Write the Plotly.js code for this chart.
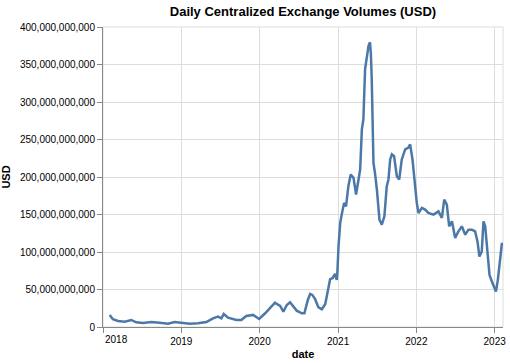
<!DOCTYPE html>
<html>
<head>
<meta charset="utf-8">
<script src="https://cdn.plot.ly/plotly-3.0.1.min.js"></script>
<style>html,body{margin:0;padding:0;background:#fff;}#chart{width:510px;height:364px;}</style>
</head>
<body>
<div id="chart"></div>
<script>
const dates = [
"2018-02-01","2018-02-16","2018-03-12","2018-04-12","2018-05-13","2018-06-05","2018-07-07","2018-08-14","2018-09-22","2018-10-31",
"2018-12-01","2019-01-01","2019-02-09","2019-03-20","2019-04-28","2019-05-29","2019-06-21","2019-07-07","2019-07-18","2019-08-07",
"2019-09-15","2019-10-08","2019-10-31","2019-12-02","2019-12-30","2020-01-27","2020-02-19","2020-03-13","2020-03-21","2020-04-06",
"2020-04-21","2020-05-07","2020-05-22","2020-06-07","2020-06-22","2020-07-16","2020-07-28","2020-08-13","2020-08-24","2020-09-03",
"2020-09-16","2020-10-01","2020-10-17","2020-11-02","2020-11-14","2020-11-25","2020-12-06","2020-12-18","2020-12-26","2020-12-29",
"2021-01-03","2021-01-11","2021-01-18","2021-01-29","2021-02-07","2021-02-18","2021-03-01","2021-03-14","2021-03-26","2021-04-06",
"2021-04-14","2021-04-22","2021-04-29","2021-05-07","2021-05-15","2021-05-23","2021-05-30","2021-06-03","2021-06-07","2021-06-15",
"2021-06-23","2021-07-01","2021-07-13","2021-07-24","2021-08-05","2021-08-16","2021-08-24","2021-09-01","2021-09-09","2021-09-19",
"2021-10-02","2021-10-13","2021-10-25","2021-11-10","2021-11-25","2021-12-03","2021-12-14","2021-12-23","2022-01-03","2022-01-11",
"2022-01-27","2022-02-11","2022-02-26","2022-03-22","2022-04-14","2022-04-30","2022-05-11","2022-05-23","2022-06-03","2022-06-16",
"2022-07-01","2022-07-16","2022-08-01","2022-08-17","2022-09-01","2022-09-17","2022-10-02","2022-10-13","2022-10-22","2022-11-02",
"2022-11-10","2022-11-18","2022-11-26","2022-12-08","2022-12-16","2022-12-27","2023-01-07","2023-01-16","2023-01-27","2023-02-04",
"2023-02-08"
];
const usdBillions = [
16.1,10.3,8.0,7.1,9.4,6.3,5.4,6.7,5.8,4.4,
6.7,5.8,4.4,4.9,6.7,11.6,13.8,11.6,17.4,12.4,
9.4,9.4,14.7,16.1,10.7,18.3,25.0,32.5,30.8,28.1,
20.5,29.4,33.0,26.4,21.8,18.3,18.3,36.1,44.1,42.8,
37.1,26.4,23.7,30.4,47.2,63.8,65.1,70.9,62.9,74.0,
107.4,138.7,149.8,165.5,160.9,187.7,203.3,198.9,176.6,194.4,
210.0,263.5,276.9,343.8,361.6,375.0,379.5,363.9,330.4,219.0,
203.3,183.3,143.1,136.5,147.6,187.7,196.7,223.4,230.1,227.8,
201.1,196.7,223.4,236.8,239.1,243.5,223.4,196.7,165.5,152.1,
158.8,156.5,152.1,149.8,154.2,145.4,169.9,163.2,134.2,140.9,
118.7,127.5,134.2,123.1,129.8,129.8,127.5,114.1,94.0,100.7,
140.9,134.2,112.0,69.6,62.9,53.9,47.2,62.9,94.0,112.0,
108.0
];
const yearTicks = ["2018-01-01","2019-01-01","2020-01-01","2021-01-01","2022-01-01","2023-01-01"];
const yearLabels = ["","2019","2020","2021","2022","2023"];
const yTicks = [0,50e9,100e9,150e9,200e9,250e9,300e9,350e9,400e9];

const font = "Liberation Sans, Arial, sans-serif";
const trace = {
  x: dates,
  y: usdBillions.map(v => v * 1e9),
  type: "scatter",
  mode: "lines",
  line: {color: "#4c78a8", width: 2.5},
  hoverinfo: "skip"
};
const layout = {
  width: 510, height: 364,
  margin: {l: 103, r: 7, t: 27, b: 37},
  paper_bgcolor: "#fff", plot_bgcolor: "#fff",
  font: {family: font, size: 10, color: "#000"},
  showlegend: false,
  title: {text: "<b>Daily Centralized Exchange Volumes (USD)</b>", font: {family: font, size: 13, color: "#000"},
          x: 0.594, xref: "container", xanchor: "center", y: 1 - 11/364, yref: "container", yanchor: "middle"},
  xaxis: {
    type: "date", range: ["2018-01-01", "2023-02-09"],
    tickvals: yearTicks, ticktext: yearLabels,
    showgrid: true, gridcolor: "#ddd", gridwidth: 1,
    showline: true, linecolor: "#888", linewidth: 1,
    ticks: "outside", ticklen: 5, tickcolor: "#888", tickwidth: 1,
    zeroline: false, tickfont: {size: 10, color: "#000"},
    title: {text: "<b>date</b>", font: {size: 11, color: "#000"}, standoff: 4},
    automargin: false, fixedrange: true
  },
  yaxis: {
    range: [0, 400e9], tickvals: yTicks, tickformat: ",",
    showgrid: true, gridcolor: "#ddd", gridwidth: 1,
    showline: true, linecolor: "#888", linewidth: 1,
    ticks: "outside", ticklen: 5, tickcolor: "#888", tickwidth: 1,
    zeroline: false, tickfont: {size: 10, color: "#000"},
    title: {text: "<b>USD</b>", font: {size: 11, color: "#000"}, standoff: 8},
    automargin: false, fixedrange: true
  },
  shapes: [{type: "rect", xref: "paper", yref: "paper", x0: 0, x1: 1, y0: 0, y1: 1,
            line: {color: "#ddd", width: 1}, layer: "below"}],
  annotations: [{text: "2018", xref: "x", yref: "paper", x: "2018-01-01", y: 0, xanchor: "left", yanchor: "top",
                 yshift: -5, showarrow: false, font: {size: 10, color: "#000"}}]
};
Plotly.newPlot("chart", [trace], layout, {displayModeBar: false, staticPlot: true});
</script>
</body>
</html>
